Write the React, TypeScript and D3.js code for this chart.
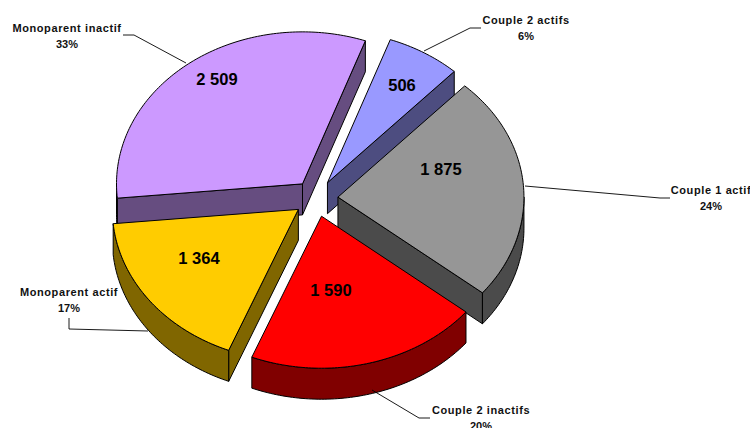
import React, { useEffect, useRef } from "react";
import * as d3 from "d3";

// values, in drawing order round the pie
const categories = ["Monoparent inactif", "Couple 2 actifs", "Couple 1 actif", "Couple 2 inactifs", "Monoparent actif"];
const values = [2509, 506, 1875, 1590, 1364];
const valueLabels = ["2 509", "506", "1 875", "1 590", "1 364"];
const percentLabels = ["33%", "6%", "24%", "20%", "17%"];
const colors = ["#CC99FF", "#9999FF", "#969696", "#FF0000", "#FFCC00"];

// layout: where the texts and leader lines sit
const valuePos = [[217, 79], [402, 85], [441, 169], [331, 290], [199, 258]];
const namePos = [[67, 28], [526, 20], [711, 190], [481, 410], [69, 292]];
const percentGap = 16.5;
const leaders = [
  [[123, 35], [134, 35], [186, 63]],
  [[481, 28], [470, 28], [424, 51]],
  [[670, 198], [660, 198], [525, 186]],
  [[430, 418], [419, 418], [372, 390]],
  [[69, 318], [69, 329], [148, 331]],
];

const width = 750;
const height = 428;
const cx = 316;
const cy = 198.4;
const rx = 186;
const ry = 152;
const depth = 31;
const explodeX = 22;
const explodeY = 18.4;
const startDeg = -95.4;

function App() {
  const ref = useRef<SVGSVGElement>(null);

  useEffect(() => {
    const svg = d3.select(ref.current);
    svg.selectAll("*").remove();

    const start = (startDeg * Math.PI) / 180;
    const arcs = d3.pie<number>().sort(null).startAngle(start).endAngle(start + 2 * Math.PI)(values);

    const line = d3.line();
    const order = [0, 1, 2, 4, 3]; // back to front

    order.forEach((i) => {
      const a = arcs[i];
      const mid = (a.startAngle + a.endAngle) / 2;
      const ox = cx + explodeX * Math.sin(mid);
      const oy = cy - explodeY * Math.cos(mid);
      const pt = (t: number): [number, number] => [ox + rx * Math.sin(t), oy - ry * Math.cos(t)];
      const down = (p: [number, number]): [number, number] => [p[0], p[1] + depth];
      const sweep = (t0: number, t1: number) => {
        const n = Math.max(2, Math.ceil(((t1 - t0) * 180) / Math.PI));
        return d3.range(n + 1).map((k) => pt(t0 + ((t1 - t0) * k) / n));
      };

      const c = d3.rgb(colors[i]);
      const wall = d3.rgb(c.r / 2, c.g / 2, c.b / 2).formatHex();
      const g = svg.append("g");
      const apex: [number, number] = [ox, oy];
      const face = (pts: [number, number][], fill: string) =>
        g.append("path")
          .attr("d", line(pts) + "Z")
          .attr("fill", fill)
          .attr("stroke", "#000")
          .attr("stroke-width", 1)
          .attr("stroke-linejoin", "round");

      // side walls, only the ones turned towards the viewer
      if (Math.sin(a.startAngle) < 0) {
        const e = pt(a.startAngle);
        face([apex, e, down(e), down(apex)], wall);
      }
      if (Math.sin(a.endAngle) > 0) {
        const e = pt(a.endAngle);
        face([apex, e, down(e), down(apex)], wall);
      }
      const t0 = Math.max(a.startAngle, Math.PI / 2);
      const t1 = Math.min(a.endAngle, (3 * Math.PI) / 2);
      const w0 = a.startAngle < 0 ? a.startAngle + 2 * Math.PI : t0;
      const w1 = a.startAngle < 0 ? (3 * Math.PI) / 2 : t1;
      if (w1 > w0) {
        const rim = sweep(w0, w1);
        face([...rim, ...rim.map(down).reverse()], wall);
      }

      face([apex, ...sweep(a.startAngle, a.endAngle)], colors[i]);
    });

    // leader lines
    leaders.forEach((pts) => {
      svg.append("path")
        .attr("d", line(pts as [number, number][]))
        .attr("fill", "none")
        .attr("stroke", "#000")
        .attr("stroke-width", 0.9);
    });

    const font = "'Liberation Sans', Arial, sans-serif";
    svg.append("g").selectAll("text").data(valueLabels).join("text")
      .attr("x", (_, i) => valuePos[i][0])
      .attr("y", (_, i) => valuePos[i][1] + 6)
      .attr("text-anchor", "middle")
      .attr("font-family", font)
      .attr("font-weight", "bold")
      .attr("font-size", 16.5)
      .text((d) => d);

    const names = svg.append("g")
      .attr("font-family", font)
      .attr("font-weight", "bold")
      .attr("font-size", 11)
      .attr("fill", "#111")
      .attr("text-anchor", "middle");
    names.selectAll("text.name").data(categories).join("text")
      .attr("class", "name")
      .attr("x", (_, i) => namePos[i][0])
      .attr("y", (_, i) => namePos[i][1] + 3.5)
      .attr("letter-spacing", 0.6)
      .text((d) => d);
    names.selectAll("text.pct").data(percentLabels).join("text")
      .attr("class", "pct")
      .attr("x", (_, i) => namePos[i][0])
      .attr("y", (_, i) => namePos[i][1] + 3.5 + percentGap)
      .text((d) => d);
  }, []);

  return (
    <svg
      ref={ref}
      width={width}
      height={height}
      style={{ position: "absolute", left: 0, top: 0, background: "#fff" }}
    />
  );
}

export default App;
